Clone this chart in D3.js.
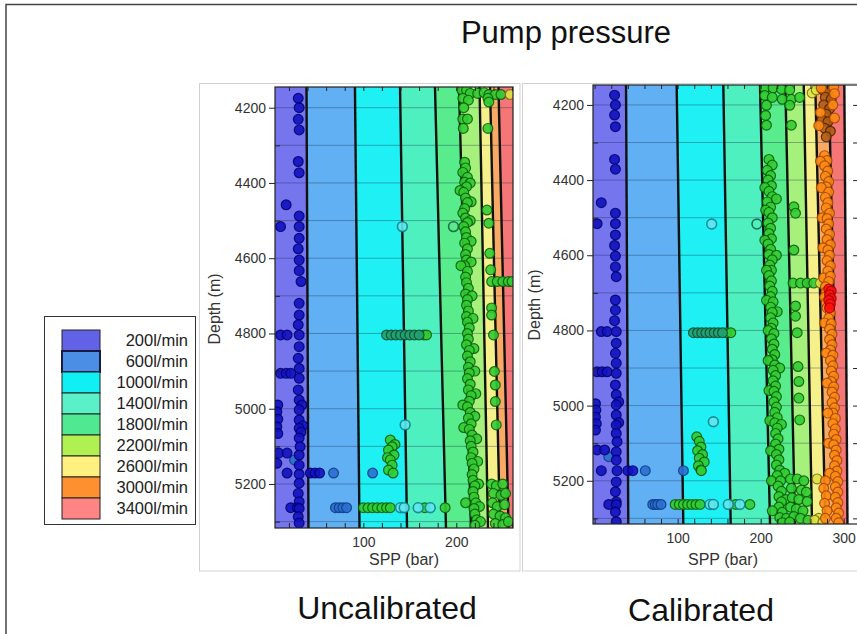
<!DOCTYPE html>
<html>
<head>
<meta charset="utf-8">
<script src="https://cdn.jsdelivr.net/npm/d3@7"></script>
<style>
  body { margin: 0; background: #fff; }
  text { font-family: "Liberation Sans", Arial, Helvetica, sans-serif; }
</style>
</head>
<body>
<svg id="chart" width="857" height="634"></svg>
<script>
// ---- Flow-rate classes (legend) ----
const flowRates = ["200l/min", "600l/min", "1000l/min", "1400l/min", "1800l/min",
                   "2200l/min", "2600l/min", "3000l/min", "3400l/min"];
const legendColors = ["#6262e6", "#4a8ee6", "#10f0f4", "#5af0c8", "#50e890",
                      "#b0f050", "#fff080", "#ff9030", "#ff8484"];
const bandColors = ["#7575ee", "#62b0f4", "#1ef0f4", "#4ef0c0", "#58ec8c",
                    "#a6f07c", "#f6f08a", "#f8aa64", "#f47676"];

// ---- Axes ticks ----
const depthMajor = [4200, 4400, 4600, 4800, 5000, 5200];
const depthMinor = [4300, 4500, 4700, 4900, 5100, 5300];
const gridDepths = [4200, 4300, 4400, 4500, 4600, 4700, 4800, 4900, 5000, 5100, 5200, 5300];
const sppLabelsUncal = [100, 200];
const sppLabelsCal = [100, 200, 300];

// ---- Modelled SPP limits between flow-rate classes (bar) at top / bottom depth ----
const boundaryDepths = [4146, 5316];
const uncalBoundaries = [
  [38.9, 41.0], [91.0, 95.9], [139.5, 147.0], [177.1, 188.9],
  [202.9, 215.8], [225.0, 234.1], [236.3, 247.0], [245.4, 256.2]
];
const calBoundaries = [
  [37.8, 40.5], [98.8, 106.8], [155.0, 163.9], [199.2, 211.3],
  [229.7, 241.4], [251.9, 261.9], [265.8, 277.9], [282.0, 294.0], [300.8, 304.6]
];

// ---- Measured SPP vs depth, uncalibrated model ----
const uncalBlue = [
  [30,4175],[31,4200],[30,4231],[31,4259],[30,4343],[31,4373],[17,4458],[31,4488],[11,4516],[31,4516],
  [31,4547],[30,4575],[31,4605],[31,4633],[33,4662],[31,4720],[31,4751],[30,4777],
  [11,4804],[18,4804],[31,4804],[31,4835],[30,4866],[31,4893],[11,4906],[17,4906],[22,4906],[31,4919],
  [30,4950],[31,4977],[8,4990],[34,4990],[31,5003],[7,5008],[8,5028],[31,5030],[35,5045],[7,5048],
  [31,5052],[33,5062],[8,5066],[31,5078],[32,5101],[9,5118],[18,5118],[31,5123],[7,5145],[31,5150],
  [18,5171],[31,5174],[43,5171],[48,5171],[53,5171],[31,5198],[30,5225],[31,5247],[22,5263],[29,5263],
  [31,5265],[30,5287],[31,5304]
];
const uncalSteel = [[26,5136],[68,5171],[110,5171],[70,5263],[74,5263],[78,5263],[82,5263]];
const uncalTeal = [[125,4804],[130,4804],[135,4804],[140,4804],[145,4804],[150,4804],[155,4804],[160,4804]];
const uncalCyan = [[142,4516],[145,5043],[140,5263],[144,5263],[159,5263],[172,5263]];
const uncalHollow = [[197,4516]];
const uncalYellow = [[258,4165]];
const uncalGreen = [
  // top cluster
  [206,4153],[211,4153],[215,4162],[223,4162],[230,4160],[235,4165],[242,4165],[248,4165],
  [207,4175],[213,4180],[208,4200],[207,4230],[212,4230],[207.5,4255],
  // main column
  [209,4345],[210,4360],[207,4372],[212,4385],[209,4398],[215,4400],[211,4410],[204,4420],[208,4425],
  [210,4440],[216,4450],[212,4452],[209,4468],[207,4480],[210,4493],[215,4500],[212,4505],[208,4516],
  [210,4530],[211,4545],[216,4555],[209,4560],[212,4575],[210,4590],[211,4605],[216,4610],[209,4620],
  [205,4620],[212,4635],[210,4650],[211,4665],[213,4680],[210,4695],[217,4700],[212,4710],[211,4725],
  [213,4740],[211,4755],[218,4760],[212,4770],[214,4785],[212,4800],[213,4815],[211,4830],[219,4840],
  [214,4845],[212,4860],[215,4875],[213,4890],[220,4900],[214,4905],[212,4920],[215,4935],[213,4950],
  [221,4960],[216,4965],[214,4980],[207,4990],[212,4995],[215,5010],[220,5020],[213,5025],[216,5040],
  [208,5050],[214,5055],[217,5070],[222,5080],[215,5085],[216,5100],[218,5115],[216,5130],[223,5140],
  [217,5145],[219,5160],[217,5175],[218,5190],[224,5200],[220,5205],[218,5220],[219,5235],[210,5250],
  [221,5250],[225,5260],[219,5265],[220,5280],[222,5295],[226,5300],[220,5310],
  // yellow-band readings
  [234,4175],[235,4185],[234,4255],[233,4472],[235,4507],[236,4587],[237,4631],[238,4662],[244,4662],
  [250,4662],[256,4662],[260,4662],[238,4732],[238,4751],[240,4804],[241,4901],[242,4937],[242,4981],
  [243,5043],
  [238,5200],[243,5205],[250,5200],[240,5225],[248,5230],[253,5225],[239,5250],[244,5260],[252,5255],
  [240,5280],[247,5285],[253,5290],[242,5305],[250,5308],[256,5300],
  // low-flow steps
  [165,4804],[168,4804],
  [129,5083],[134,5095],[131,5101],[127,5110],[133,5123],[126,5130],[129,5136],[131,5150],[127,5163],
  [132,5171],
  [100,5263],[105,5263],[110,5263],[115,5263],[120,5263],[125,5263],[129,5263],[166,5263],[188,5263]
];

// ---- Measured SPP vs depth, calibrated model ----
const calBlue = [
  [24,4174],[25,4200],[24,4227],[25,4258],[24,4345],[25,4371],[8,4460],[25,4488],[3,4516],[25,4516],
  [25,4546],[24,4574],[25,4602],[25,4631],[26,4657],[25,4719],[25,4746],[24,4774],
  [8,4803],[15,4803],[26,4803],[26,4834],[25,4861],[26,4887],[3,4910],[9,4910],[15,4910],[26,4914],
  [25,4945],[26,4971],[1,4995],[29,4990],[26,4998],[1.5,5012],[26,5025],[1,5030],[29,5045],[2,5048],
  [26,5052],[1,5065],[26,5074],[27,5096],[3,5118],[12,5118],[26,5123],[26,5145],
  [8,5173],[27,5173],[40,5173],[46,5173],[26,5203],[25,5229],[26,5256],[17,5263],[26,5263],[25,5283],
  [26,5309]
];
const calSteel = [[17,5136],[61,5173],[107,5173],[70,5263],[73,5263],[76,5263],[80,5263]];
const calTeal = [[119,4806],[124,4806],[129,4806],[134,4806],[139,4806],[144,4806],[149,4806],[154,4806]];
const calCyan = [[141,4517],[143,5043],[139,5263],[143,5263],[161,5263],[175,5263]];
const calHollow = [[195.5,4517]];
const calGreen = [
  // top cluster
  [205,4155],[215,4155],[225,4158],[235,4160],[205,4175],[214,4180],[226,4185],[237,4185],
  [207,4201],[235,4201],[206,4228],[207,4254],[237,4254],
  // main column
  [210,4345],[214,4360],[208,4374],[212,4388],[209,4400],[213,4415],[205,4420],[210,4430],[214,4444],
  [219,4450],[208,4458],[212,4472],[206,4480],[210,4486],[214,4500],[209,4514],[212,4528],[210,4542],
  [213,4556],[205,4560],[209,4570],[212,4584],[210,4598],[219,4600],[214,4612],[211,4626],[213,4640],
  [207,4640],[210,4654],[213,4668],[211,4682],[214,4696],[212,4710],[207,4720],[215,4724],[212,4738],
  [220,4750],[214,4752],[212,4766],[215,4780],[213,4794],[209,4800],[216,4808],[213,4822],[216,4836],
  [214,4850],[217,4864],[214,4878],[209,4880],[217,4892],[223,4900],[215,4906],[218,4920],[215,4934],
  [218,4948],[210,4960],[216,4962],[219,4976],[216,4990],[219,5004],[217,5018],[220,5032],[211,5040],
  [217,5046],[225,5050],[220,5060],[218,5074],[221,5088],[218,5102],[222,5116],[212,5120],[219,5130],
  [222,5144],[219,5158],[223,5172],[229,5180],[220,5186],[213,5200],[224,5200],[221,5214],[225,5228],
  [222,5242],[230,5250],[225,5256],[222,5270],[214,5280],[226,5284],[223,5298],[231,5300],[226,5312],
  // light-green band readings
  [247,4180],[240,4471],[242,4488],[240,4586],[239,4674],[248,4674],[256,4674],[264,4674],[242,4735],
  [242,4762],[244,4806],[245,4896],[246,4936],[246,4980],[247,5038],
  [236,5195],[244,5195],[252,5200],[237,5220],[249,5225],[255,5230],[238,5245],[246,5250],[256,5255],
  [236,5270],[243,5275],[251,5280],[240,5295],[248,5300],[257,5305],[235,5310],
  // low-flow steps
  [159,4806],[164,4806],
  [123,5083],[126,5095],[128,5110],[124,5120],[130,5130],[126,5140],[132,5150],[125,5160],[128,5171],
  [128.5,5173],
  [97,5263],[102,5263],[107,5263],[112,5263],[117,5263],[122,5263],[127,5263],[170,5263],[187,5263]
];
const calYellow = [[262,4168],[267,4160],[272,4674],[280,4674],[268,5195],[270,5300],[265,5305],[275,5310]];
const calBrown = [
  [275,4160],[282,4165],[278,4180],[285,4185],[276,4200],[283,4210],[279,4225],[274,4240],[281,4245],
  [277,4262],[284,4270],[279,4285]
];
const calOrange = [
  [273,4155],[288,4152],[289,4170],[287,4200],[272,4220],[289,4235],[270,4255],
  [277,4335],[280,4348],[272,4350],[277,4362],[281,4376],[278,4390],[282,4404],[279,4418],[273,4420],
  [282,4432],[278,4446],[281,4460],[279,4474],[283,4488],[274,4500],[280,4502],[282,4516],[279,4530],
  [283,4544],[280,4558],[284,4572],[275,4580],[281,4586],[283,4600],[280,4614],[284,4628],[281,4642],
  [276,4660],[284,4656],[282,4670],[278,4684],[279,4698],[277,4712],[279,4726],[280,4740],[284,4754],
  [282,4768],[277,4780],[285,4782],[283,4796],[286,4810],[283,4824],[286,4838],[284,4852],[279,4860],
  [287,4866],[284,4880],[287,4894],[285,4908],[288,4922],[285,4936],[280,4940],[288,4950],[286,4964],
  [289,4978],[286,4992],[289,5006],[287,5020],[281,5020],[290,5034],[287,5048],[290,5062],[288,5076],
  [291,5090],[282,5100],[288,5104],[291,5118],[289,5132],[292,5146],[289,5160],[292,5174],[283,5180],
  [290,5188],[278,5200],[293,5202],[290,5216],[276,5220],[293,5230],[279,5240],[290,5244],[277,5260],
  [293,5258],[291,5272],[280,5280],[294,5286],[278,5300],[291,5300],[294,5312]
];
const calRed = [[282,4690],[285,4695],[283,4705],[285,4715],[282,4720],[284,4730],[283,4740]];

// ---- Marker styles ----
const markerStyles = {
  blue:   { fill: "#1212c0", stroke: "#00006a" },
  steel:  { fill: "#2a70d0", stroke: "#103880" },
  green:  { fill: "#32cc32", stroke: "#0a580a" },
  teal:   { fill: "#22a070", stroke: "#0a4a30" },
  cyan:   { fill: "#5ee8f0", stroke: "#107c88" },
  hollow: { fill: "none",    stroke: "#1a5a3a" },
  yellow: { fill: "#dce444", stroke: "#7a6a10" },
  brown:  { fill: "#b05c14", stroke: "#4a2000" },
  orange: { fill: "#ff8a14", stroke: "#a04800" },
  red:    { fill: "#ff1010", stroke: "#a00000" }
};

const svg = d3.select("#chart");
const tickFont = "14px";

// Outer figure frame (top and left edges)
svg.append("path").attr("d", "M6,634 L6,4.5 L857,4.5")
  .attr("fill", "none").attr("stroke", "#444").attr("stroke-width", 1.5);

// Title
svg.append("text").attr("x", 566).attr("y", 43).attr("text-anchor", "middle")
  .attr("font-size", "31px").attr("fill", "#111").text("Pump pressure");

function drawPanel(p) {
  const x = d3.scaleLinear().domain(p.sppDomain).range(p.xRange);
  const y = d3.scaleLinear().domain(p.depthDomain).range(p.yRange);
  const [x0, x1] = p.xRange, [y0, y1] = p.yRange;

  // light panel frame
  svg.append("rect").attr("x", p.frame[0]).attr("y", p.frame[1])
    .attr("width", p.frame[2]).attr("height", p.frame[3])
    .attr("fill", "#fff").attr("stroke", "#d2d2d2").attr("stroke-width", 1);

  const g = svg.append("g");
  const clipId = "clip-" + p.id;
  g.append("clipPath").attr("id", clipId).append("rect")
    .attr("x", x0).attr("y", y0).attr("width", x1 - x0).attr("height", y1 - y0);
  const plot = g.append("g").attr("clip-path", `url(#${clipId})`);

  const [dA, dB] = boundaryDepths;
  const edges = [[p.sppDomain[0], p.sppDomain[0]], ...p.boundaries];
  if (edges.length === bandColors.length) edges.push([p.sppDomain[1], p.sppDomain[1]]);
  const ext = 40; // extend beyond clip
  const yA = y(dA) - ext, yB = y(dB) + ext;
  const slopeX = (e, yy) => {
    const xa = x(e[0]), xb = x(e[1]);
    return xa + (xb - xa) * (yy - y(dA)) / (y(dB) - y(dA));
  };

  // flow-rate bands
  bandColors.forEach((c, i) => {
    const L = edges[i], R = edges[i + 1];
    const pts = [[slopeX(L, yA), yA], [slopeX(L, yB), yB], [slopeX(R, yB), yB], [slopeX(R, yA), yA]];
    plot.append("path").attr("d", "M" + pts.join("L") + "Z").attr("fill", c);
  });

  // horizontal depth grid over the bands
  const outer = edges[edges.length - 1];
  plot.selectAll(".grid").data(gridDepths).join("line")
    .attr("x1", x0).attr("x2", d => slopeX(outer, y(d)))
    .attr("y1", d => y(d)).attr("y2", d => y(d))
    .attr("stroke", "rgba(20,40,70,0.35)").attr("stroke-width", 1);

  // limit curves
  plot.selectAll(".lim").data(p.boundaries).join("line")
    .attr("x1", d => slopeX(d, yA)).attr("y1", yA)
    .attr("x2", d => slopeX(d, yB)).attr("y2", yB)
    .attr("stroke", "#111").attr("stroke-width", 2.4);

  // measured points
  p.points.forEach(([data, key]) => {
    const s = markerStyles[key];
    plot.append("g").selectAll("circle").data(data).join("circle")
      .attr("cx", d => x(d[0])).attr("cy", d => y(d[1])).attr("r", 4.9)
      .attr("fill", s.fill).attr("fill-opacity", s.fill === "none" ? 0 : 0.9)
      .attr("stroke", s.stroke).attr("stroke-width", key === "hollow" || key === "cyan" ? 1.6 : 1.2)
      .attr("stroke-opacity", 0.85);
  });

  // plot frame
  g.append("rect").attr("x", x0).attr("y", y0).attr("width", x1 - x0).attr("height", y1 - y0)
    .attr("fill", "none").attr("stroke", "#222").attr("stroke-width", 1.2);

  const styleAxis = sel => {
    sel.select(".domain").remove();
    sel.selectAll("line").attr("stroke", "#222");
    sel.selectAll("text").attr("font-size", tickFont).attr("fill", "#333")
      .attr("font-family", '"Liberation Sans", Arial, sans-serif');
  };

  // depth axis
  g.append("g").attr("transform", `translate(${x0},0)`)
    .call(d3.axisLeft(y).tickValues(depthMajor).tickSize(6).tickPadding(3).tickFormat(d3.format("d")))
    .call(styleAxis);
  g.append("g").attr("transform", `translate(${x0},0)`)
    .call(d3.axisRight(y).tickValues(depthMinor).tickSize(5).tickFormat(""))
    .call(styleAxis);

  // SPP axis
  const minor = d3.range(p.minorStart, p.sppDomain[1], 20);
  g.append("g").attr("transform", `translate(0,${y1})`)
    .call(d3.axisBottom(x).tickValues(p.sppLabels).tickSize(0).tickPadding(9))
    .call(styleAxis);
  g.append("g").attr("transform", `translate(0,${y1})`)
    .call(d3.axisTop(x).tickValues(minor).tickSize(5).tickFormat(""))
    .call(styleAxis);
  g.append("g").attr("transform", `translate(0,${y0})`)
    .call(d3.axisBottom(x).tickValues(minor).tickSize(4).tickFormat(""))
    .call(styleAxis);
  if (p.rightTicks) {
    g.append("g").attr("transform", `translate(${x1 - 1.5},0)`)
      .call(d3.axisLeft(y).tickValues(gridDepths).tickSize(4).tickFormat(""))
      .call(styleAxis);
  }

  // axis titles
  g.append("text").attr("x", p.xTitle[0]).attr("y", p.xTitle[1]).attr("text-anchor", "middle")
    .attr("font-size", "16px").attr("fill", "#333").text("SPP (bar)");
  g.append("text").attr("transform", `translate(${p.yTitle[0]},${p.yTitle[1]}) rotate(-90)`)
    .attr("text-anchor", "middle").attr("font-size", "16px").attr("fill", "#333").text("Depth (m)");

  // caption
  svg.append("text").attr("x", p.caption[0]).attr("y", p.caption[1]).attr("text-anchor", "middle")
    .attr("font-size", "32px").attr("fill", "#111").text(p.captionText);
}

drawPanel({
  id: "uncal",
  sppDomain: [5, 261], xRange: [275, 513],
  depthDomain: [4145, 5317], yRange: [87, 528],
  frame: [199.5, 83.5, 320.5, 487.5],
  boundaries: uncalBoundaries,
  sppLabels: sppLabelsUncal, minorStart: 20,
  points: [[uncalGreen, "green"], [uncalYellow, "yellow"], [uncalTeal, "teal"], [uncalCyan, "cyan"],
           [uncalHollow, "hollow"], [uncalSteel, "steel"], [uncalBlue, "blue"]],
  xTitle: [404, 565], yTitle: [220, 309],
  caption: [387, 619], captionText: "Uncalibrated",
  rightTicks: false
});

drawPanel({
  id: "cal",
  sppDomain: [-2, 318], xRange: [593, 858.6],
  depthDomain: [4147, 5315], yRange: [85, 524],
  frame: [522.5, 83.5, 345, 487.5],
  boundaries: calBoundaries,
  sppLabels: sppLabelsCal, minorStart: 0,
  points: [[calGreen, "green"], [calYellow, "yellow"], [calTeal, "teal"], [calCyan, "cyan"],
           [calHollow, "hollow"], [calSteel, "steel"], [calBlue, "blue"],
           [calBrown, "brown"], [calOrange, "orange"], [calRed, "red"]],
  xTitle: [723, 565], yTitle: [540, 305],
  caption: [701, 621], captionText: "Calibrated",
  rightTicks: true
});

// ---- Legend ----
const legend = svg.append("g");
legend.append("rect").attr("x", 44.5).attr("y", 316.5).attr("width", 151).attr("height", 208)
  .attr("fill", "#fff").attr("stroke", "#333").attr("stroke-width", 1);
const rowH = 21, legTop = 330;
legend.selectAll(".sw").data(flowRates).join("rect")
  .attr("x", 62).attr("y", (d, i) => legTop + i * rowH).attr("width", 38).attr("height", rowH)
  .attr("fill", (d, i) => legendColors[i])
  .attr("stroke", (d, i) => i === 1 ? "#1a1a40" : "#222").attr("stroke-width", (d, i) => i === 1 ? 2 : 1);
legend.selectAll(".lb").data(flowRates).join("text")
  .attr("x", 188).attr("y", (d, i) => legTop + i * rowH + 16)
  .attr("text-anchor", "end").attr("font-size", "16.5px").attr("fill", "#222").text(d => d);
</script>
</body>
</html>
